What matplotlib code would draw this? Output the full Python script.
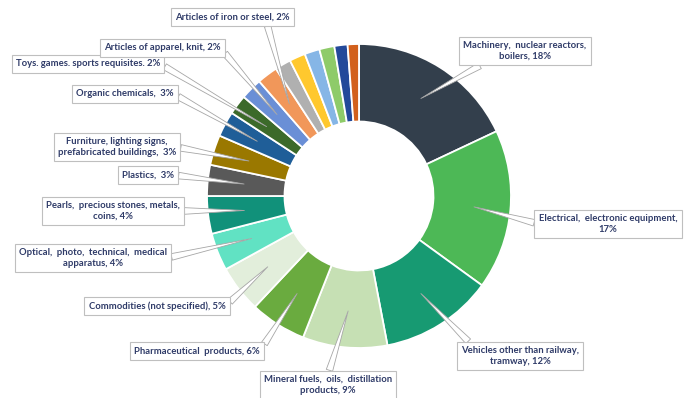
import numpy as np
import matplotlib.pyplot as plt

# slices clockwise from 12 o'clock
labels = ["Machinery,  nuclear reactors,\nboilers, 18%",
          "Electrical,  electronic equipment,\n17%",
          "Vehicles other than railway,\ntramway, 12%",
          "Mineral fuels,  oils,  distillation\nproducts, 9%",
          "Pharmaceutical  products, 6%",
          "Commodities (not specified), 5%",
          "Optical,  photo,  technical,  medical\napparatus, 4%",
          "Pearls,  precious stones, metals,\ncoins, 4%",
          "Plastics,  3%",
          "Furniture, lighting signs,\nprefabricated buildings,  3%",
          "Organic chemicals,  3%",
          "Toys. games. sports requisites. 2%",
          "Articles of apparel, knit, 2%",
          "Articles of iron or steel, 2%",
          None, None, None, None, None, None]
values = [18, 17, 12, 9, 6, 5, 4, 4, 3.3, 3.2, 2.7, 2.1, 2.3, 2.2,
          1.7, 1.7, 1.6, 1.6, 1.4, 1.2]
colors = ["#333F4C", "#4DB856", "#179A72", "#C6E0B4", "#6AAB3F", "#E2EEDB",
          "#61E2C3", "#11917A", "#595959", "#9A7800", "#1F5E98", "#3C6A2A",
          "#6A8FD6", "#F1975A", "#B0B0B0", "#FFC82E", "#86B6E6", "#8ECB69",
          "#23499A", "#D2601C"]

# label box centres (pixels in the 693x398 picture) and where the callout leaves the box
label_px = [(525, 51), (608, 224), (520, 356), (328, 385), (197, 351),
            (157, 306), (93, 258), (113, 211), (148, 175), (117, 147),
            (125, 94), (88, 64), (162, 48), (232, 17)]
relpos = [(0.2, 0), (0, 0.5), (0.1, 1), (0.5, 1), (1, 0.5),
          (1, 0.5), (1, 0.5), (1, 0.5), (1, 0.5), (1, 0.5),
          (1, 0.5), (1, 0.5), (1, 0.5), (0.8, 0)]

fig = plt.figure(figsize=(6.93, 3.98), dpi=100)
cx, cy, R = 359, 196, 152
ax = fig.add_axes([0, 0, 1, 1])

ax.pie(values, colors=colors, startangle=90, counterclock=False, radius=1,
       wedgeprops=dict(width=0.51, edgecolor="white", linewidth=1.3))

# pie() resets the limits, so set them afterwards
ax.set_xlim(-cx / R, (693 - cx) / R)
ax.set_ylim((cy - 398) / R, cy / R)
ax.set_aspect("equal")
ax.axis("off")

total = sum(values)
cum = np.cumsum([0] + values)
for i, lab in enumerate(labels):
    if lab is None:
        continue
    mid = 90 - 360 * (cum[i] + values[i] / 2) / total
    tip = (0.76 * np.cos(np.radians(mid)), 0.76 * np.sin(np.radians(mid)))
    px, py = label_px[i]
    ax.annotate(lab, xy=tip, xytext=((px - cx) / R, (cy - py) / R),
                ha="center", va="center", fontsize=6.8, fontfamily="Lato",
                fontweight="bold", color="#2F3B68", linespacing=1.3,
                bbox=dict(boxstyle="square,pad=0.45", fc="white",
                          ec="#BFBFBF", lw=0.8),
                arrowprops=dict(arrowstyle="wedge,tail_width=0.7",
                                fc="white", ec="#A6A6A6", lw=0.6,
                                shrinkA=0, shrinkB=0, relpos=relpos[i]),
                zorder=5)

fig.savefig("out.png", dpi=100)
